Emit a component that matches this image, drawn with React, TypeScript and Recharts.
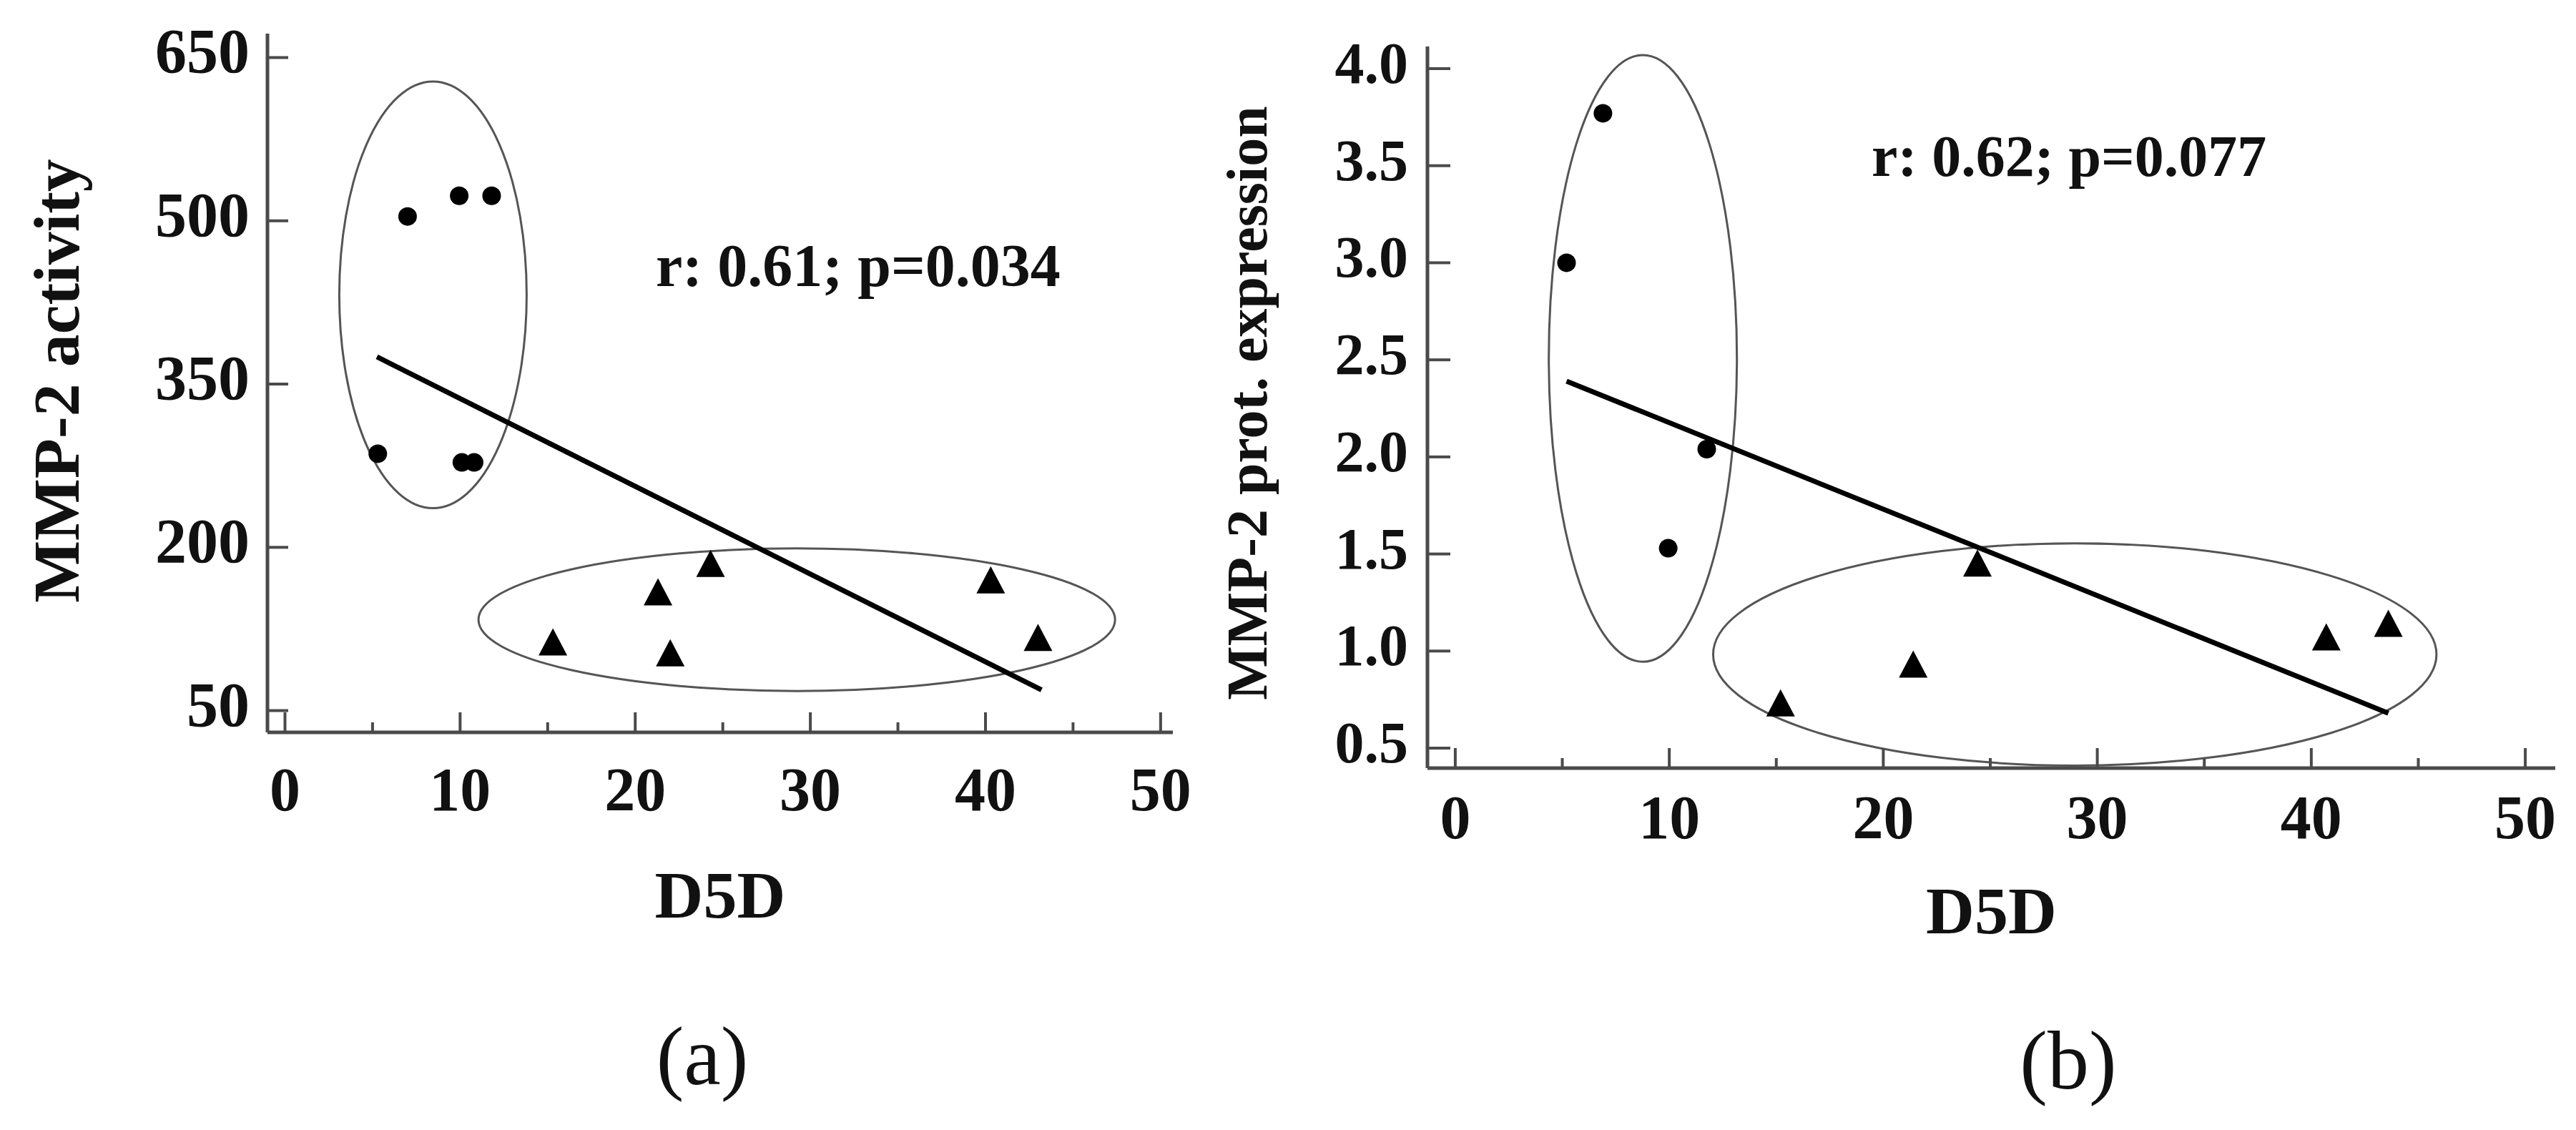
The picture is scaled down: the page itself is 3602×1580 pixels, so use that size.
import React from "react";
import { ScatterChart, Scatter, XAxis, YAxis, ReferenceArea, ReferenceLine } from "recharts";

// Two scatter panels: MMP-2 vs D5D, with group ellipses and a fitted line.

const FONT = '"Liberation Serif", "Times New Roman", Times, serif';
const INK = "#111111";
const AXIS = "#4a4a4a";
const RING = "#555555";

// ---- panel (a): MMP-2 activity ----
const aCircleX = [5.3, 7.0, 9.95, 11.8, 10.1, 10.8];
const aCircleY = [286, 504, 523, 523, 278, 278];
const aTriX = [15.3, 21.3, 22.0, 24.3, 40.3, 43.0];
const aTriY = [109, 155, 99, 181, 166, 113];
const aFitX = [5.25, 43.2];
const aFitY = [375, 69];
// ellipse bounding boxes [from, to]
const aRingX = [[3.1, 13.8], [11.05, 47.4]];
const aRingY = [[236, 628], [68, 199]];
const aXTicks = [0, 5, 10, 15, 20, 25, 30, 35, 40, 45, 50];
const aYTicks = [50, 200, 350, 500, 650];

// ---- panel (b): MMP-2 prot. expression ----
const bCircleX = [5.2, 6.9, 11.75, 9.95];
const bCircleY = [3.0, 3.77, 2.04, 1.53];
const bTriX = [15.2, 21.4, 24.4, 40.7, 43.6];
const bTriY = [0.71, 0.91, 1.43, 1.05, 1.12];
const bFitX = [5.2, 43.6];
const bFitY = [2.39, 0.68];
const bRingX = [[4.37, 13.16], [12.05, 45.85]];
const bRingY = [[0.945, 4.07], [0.41, 1.555]];
const bXTicks = [0, 5, 10, 15, 20, 25, 30, 35, 40, 45, 50];
const bYTicks = [0.5, 1.0, 1.5, 2.0, 2.5, 3.0, 3.5, 4.0];

const toPoints = (xs: number[], ys: number[]) => xs.map((x, i) => ({ x, y: ys[i] }));

const Dot = (p: any) => <circle cx={p.cx} cy={p.cy} r={13} fill="#000" />;

const Tri = (p: any) => {
  const w = 40;
  const h = 38;
  const d = `M${p.cx},${p.cy - (2 * h) / 3} L${p.cx + w / 2},${p.cy + h / 3} L${p.cx - w / 2},${p.cy + h / 3} Z`;
  return <path d={d} fill="#000" />;
};

const Ring = (p: any) => (
  <ellipse
    cx={p.x + p.width / 2}
    cy={p.y + p.height / 2}
    rx={Math.abs(p.width) / 2}
    ry={Math.abs(p.height) / 2}
    fill="none"
    stroke={RING}
    strokeWidth={3}
  />
);

const makeXTick = (labelDy: number, fontSize: number) => (props: any) => {
  const { x, y, payload } = props;
  const v = payload.value as number;
  const major = v % 10 === 0;
  return (
    <g>
      <line x1={x} y1={y} x2={x} y2={y - (major ? 28 : 14)} stroke={AXIS} strokeWidth={4} />
      {major && (
        <text x={x} y={y + labelDy} textAnchor="middle" fontFamily={FONT} fontWeight="bold" fontSize={fontSize} fill={INK}>
          {v}
        </text>
      )}
    </g>
  );
};

const makeYTick = (len: number, gap: number, labelDy: number, fontSize: number, digits: number) => (props: any) => {
  const { x, y, payload } = props;
  const v = payload.value as number;
  return (
    <g>
      <line x1={x} y1={y} x2={x + len} y2={y} stroke={AXIS} strokeWidth={4} />
      <text x={x - gap} y={y + labelDy} textAnchor="end" fontFamily={FONT} fontWeight="bold" fontSize={fontSize} fill={INK}>
        {v.toFixed(digits)}
      </text>
    </g>
  );
};

const yTitle = (text: string, dx: number, dy: number, fontSize: number) => (props: any) => {
  const vb = props.viewBox || { x: 0, y: 0, width: 0, height: 0 };
  const tx = vb.x + dx;
  const ty = vb.y + vb.height / 2 + dy;
  return (
    <text
      x={tx}
      y={ty}
      transform={`rotate(-90, ${tx}, ${ty})`}
      textAnchor="middle"
      fontFamily={FONT}
      fontWeight="bold"
      fontSize={fontSize}
      fill={INK}
    >
      {text}
    </text>
  );
};

const xTitle = (text: string, dy: number, fontSize: number) => (props: any) => {
  const vb = props.viewBox || { x: 0, y: 0, width: 0, height: 0 };
  return (
    <text
      x={vb.x + vb.width / 2}
      y={vb.y + dy}
      textAnchor="middle"
      fontFamily={FONT}
      fontWeight="bold"
      fontSize={fontSize}
      fill={INK}
    >
      {text}
    </text>
  );
};

const axisLine = { stroke: AXIS, strokeWidth: 5 };

function PanelA() {
  return (
    <ScatterChart width={1700} height={1350} margin={{ top: 47, right: 60, bottom: 226, left: 0 }}>
      <XAxis
        type="number"
        dataKey="x"
        domain={[-1, 50.7]}
        ticks={aXTicks}
        interval={0}
        allowDataOverflow
        height={100}
        tickSize={0}
        tickMargin={0}
        tickLine={false}
        axisLine={axisLine}
        tick={makeXTick(109, 86)}
        label={xTitle("D5D", 259, 94)}
      />
      <YAxis
        type="number"
        dataKey="y"
        domain={[30, 672]}
        ticks={aYTicks}
        interval={0}
        allowDataOverflow
        width={374}
        tickSize={0}
        tickMargin={0}
        tickLine={false}
        axisLine={axisLine}
        tick={makeYTick(29, 25, 21, 88, 0)}
        label={yTitle("MMP-2 activity", 110, -3, 92)}
      />
      {aRingX.map((rx, i) => (
        <ReferenceArea
          key={`ra${i}`}
          x1={rx[0]}
          x2={rx[1]}
          y1={aRingY[i][0]}
          y2={aRingY[i][1]}
          ifOverflow="visible"
          shape={Ring}
        />
      ))}
      <ReferenceLine
        segment={toPoints(aFitX, aFitY)}
        stroke="#000"
        strokeWidth={7}
        ifOverflow="visible"
      />
      <Scatter data={toPoints(aCircleX, aCircleY)} shape={Dot} isAnimationActive={false} />
      <Scatter data={toPoints(aTriX, aTriY)} shape={Tri} isAnimationActive={false} />
    </ScatterChart>
  );
}

function PanelB() {
  return (
    <ScatterChart width={1902} height={1350} margin={{ top: 65, right: 29, bottom: 176, left: 0 }}>
      <XAxis
        type="number"
        dataKey="x"
        domain={[-1.3, 51.4]}
        ticks={bXTicks}
        interval={0}
        allowDataOverflow
        height={100}
        tickSize={0}
        tickMargin={0}
        tickLine={false}
        axisLine={axisLine}
        tick={makeXTick(98, 86)}
        label={xTitle("D5D", 231, 94)}
      />
      <YAxis
        type="number"
        dataKey="y"
        domain={[0.397, 4.114]}
        ticks={bYTicks}
        interval={0}
        allowDataOverflow
        width={296}
        tickSize={0}
        tickMargin={0}
        tickLine={false}
        axisLine={axisLine}
        tick={makeYTick(32, 27, 20, 82, 1)}
        label={yTitle("MMP-2 prot. expression", 71, -6, 80)}
      />
      {bRingX.map((rx, i) => (
        <ReferenceArea
          key={`rb${i}`}
          x1={rx[0]}
          x2={rx[1]}
          y1={bRingY[i][0]}
          y2={bRingY[i][1]}
          ifOverflow="visible"
          shape={Ring}
        />
      ))}
      <ReferenceLine
        segment={toPoints(bFitX, bFitY)}
        stroke="#000"
        strokeWidth={7}
        ifOverflow="visible"
      />
      <Scatter data={toPoints(bCircleX, bCircleY)} shape={Dot} isAnimationActive={false} />
      <Scatter data={toPoints(bTriX, bTriY)} shape={Tri} isAnimationActive={false} />
    </ScatterChart>
  );
}

export default function App() {
  return (
    <div
      style={{
        position: "absolute",
        left: 0,
        top: 0,
        width: 3602,
        height: 1580,
        background: "#fff",
        overflow: "hidden",
      }}
    >
      <div style={{ position: "absolute", left: 0, top: 0 }}>
        <PanelA />
      </div>
      <div style={{ position: "absolute", left: 1700, top: 0 }}>
        <PanelB />
      </div>
      <svg
        width={3602}
        height={1580}
        style={{ position: "absolute", left: 0, top: 0, pointerEvents: "none" }}
      >
        <text x={917} y={400} fontFamily={FONT} fontWeight="bold" fontSize={84} fill={INK}>
          r: 0.61; p=0.034
        </text>
        <text x={2617} y={246} fontFamily={FONT} fontWeight="bold" fontSize={82} fill={INK}>
          r: 0.62; p=0.077
        </text>
        <text x={982} y={1516} textAnchor="middle" fontFamily={FONT} fontSize={116} fill={INK}>
          (a)
        </text>
        <text x={2892} y={1522} textAnchor="middle" fontFamily={FONT} fontSize={116} fill={INK}>
          (b)
        </text>
      </svg>
    </div>
  );
}
